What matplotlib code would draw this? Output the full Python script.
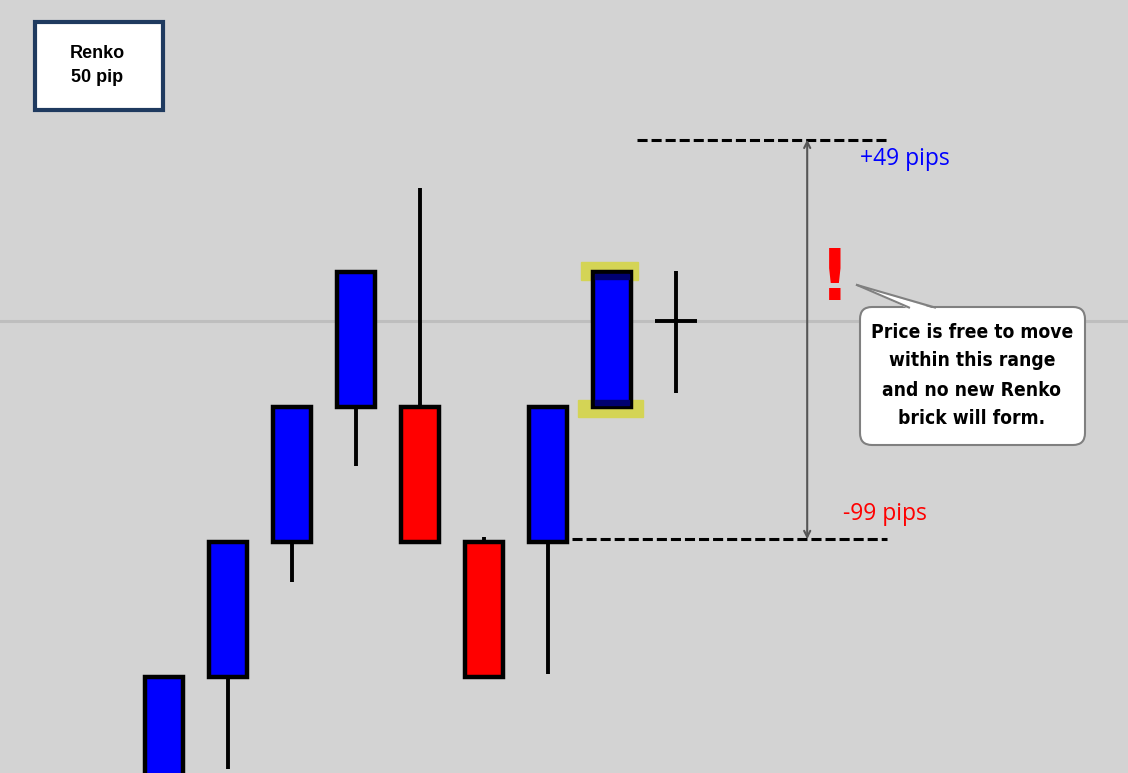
import matplotlib
matplotlib.use("Agg")
import matplotlib.pyplot as plt
from matplotlib.patches import Rectangle, FancyBboxPatch, Polygon

# renko bricks (price in pips, brick size 50)
brick_x = [0, 1, 2, 3, 4, 5, 6, 7]
brick_low = [-50, 0, 50, 100, 50, 0, 50, 100]
brick_high = [0, 50, 100, 150, 100, 50, 100, 150]
brick_dir = ["up", "up", "up", "up", "down", "down", "up", "up"]
wick_end = [None, -34, 35, 78, 181, 52, 1, 96]

# forming bar
cur_x = 8
cur_high = 150.5
cur_low = 105
cur_last = 132

upper_level = 199
lower_level = 51

bg = "#D3D3D3"
fig = plt.figure(figsize=(11.28, 7.73), dpi=100, facecolor=bg)
ax = fig.add_axes([0, 0, 1, 1])
ax.set_xlim(-2.5625, 15.0625)
ax.set_ylim(-35.56, 250.7)
ax.axis("off")

ax.axhline(cur_last, color="#BEBEBE", lw=2.2, zorder=0.5)

# wicks
for x, lo, hi, w in zip(brick_x, brick_low, brick_high, wick_end):
    if w is None:
        continue
    if w < lo:
        ax.plot([x, x], [w, lo], color="black", lw=2.8, solid_capstyle="butt", zorder=1)
    else:
        ax.plot([x, x], [hi, w], color="black", lw=2.8, solid_capstyle="butt", zorder=1)

# highlight of last brick
ax.add_patch(Rectangle((6.516, 147), 0.89, 6.7, color="#D4D455", zorder=1.5))
ax.add_patch(Rectangle((6.47, 96.3), 1.01, 6.3, color="#D4D455", zorder=1.5))

colors = ["#0000FF" if d == "up" else "#FF0000" for d in brick_dir]
heights = [h - l for l, h in zip(brick_low, brick_high)]
ax.bar(brick_x, heights, bottom=brick_low, width=0.6, color=colors,
       edgecolor="black", linewidth=3.2, zorder=2)

ax.add_patch(Rectangle((7 - 0.27, 147.5), 0.54, 1.8, color="#000070", zorder=2.5))
ax.add_patch(Rectangle((7 - 0.27, 100.7), 0.54, 1.8, color="#000070", zorder=2.5))

# current bar cross
ax.plot([cur_x, cur_x], [cur_low, cur_high], color="black", lw=2.8, solid_capstyle="butt", zorder=3)
ax.plot([cur_x - 0.33, cur_x + 0.33], [cur_last, cur_last], color="black", lw=2.8,
        solid_capstyle="butt", zorder=3)

# range lines
dash = (0, (3.3, 1.3))
ax.plot([7.39, 11.3], [upper_level, upper_level], color="black", lw=2.2, ls=dash, zorder=3)
ax.plot([6.375, 11.3], [lower_level, lower_level], color="black", lw=2.2, ls=dash, zorder=3)
ax.annotate("", xy=(10.05, upper_level), xytext=(10.05, lower_level),
            arrowprops=dict(arrowstyle="<->", color="#555555", lw=1.5,
                            shrinkA=0, shrinkB=0, mutation_scale=11), zorder=3)

ax.text(10.875, 192, "+49 pips", color="#0000FF", fontsize=16.5, ha="left", va="center",
        family=["Open Sans", "DejaVu Sans"])
ax.text(10.61, 60.5, "-99 pips", color="#FF0000", fontsize=16.5, ha="left", va="center",
        family=["Open Sans", "DejaVu Sans"])

# overlay in pixel space for the annotation boxes
ov = fig.add_axes([0, 0, 1, 1])
ov.set_xlim(0, 1128)
ov.set_ylim(773, 0)
ov.axis("off")
ov.patch.set_alpha(0)

ov.add_patch(Rectangle((35, 22), 128, 88, facecolor="white", edgecolor="#1F3A5F", lw=3))
ov.text(97, 54, "Renko", fontsize=13, fontweight="bold", ha="center", va="center",
        family=["Liberation Sans", "DejaVu Sans"])
ov.text(97, 77, "50 pip", fontsize=13, fontweight="bold", ha="center", va="center",
        family=["Liberation Sans", "DejaVu Sans"])

ov.text(835, 281, "!", color="#FF0000", fontsize=52, fontweight="heavy", ha="center",
        va="center", family=["DejaVu Sans"], fontstretch="condensed")

ov.add_patch(FancyBboxPatch((860, 307), 225, 138, boxstyle="round,pad=0,rounding_size=12",
                            facecolor="white", edgecolor="#808080", lw=1.5))
ov.add_patch(Polygon([(909, 309), (857, 285), (935, 309)], closed=True,
                     facecolor="white", edgecolor="none"))
ov.plot([857, 909], [285, 307.5], color="#808080", lw=1.5)
ov.plot([857, 935], [285, 307.5], color="#808080", lw=1.5)

callout = ["Price is free to move", "within this range", "and no new Renko", "brick will form."]
for i, line in enumerate(callout):
    ov.text(972, 332 + i * 29, line, fontsize=13.8, fontweight="bold", ha="center", va="center",
            family=["DejaVu Sans"], fontstretch="condensed")

fig.savefig("out.png", dpi=100, facecolor=bg)
